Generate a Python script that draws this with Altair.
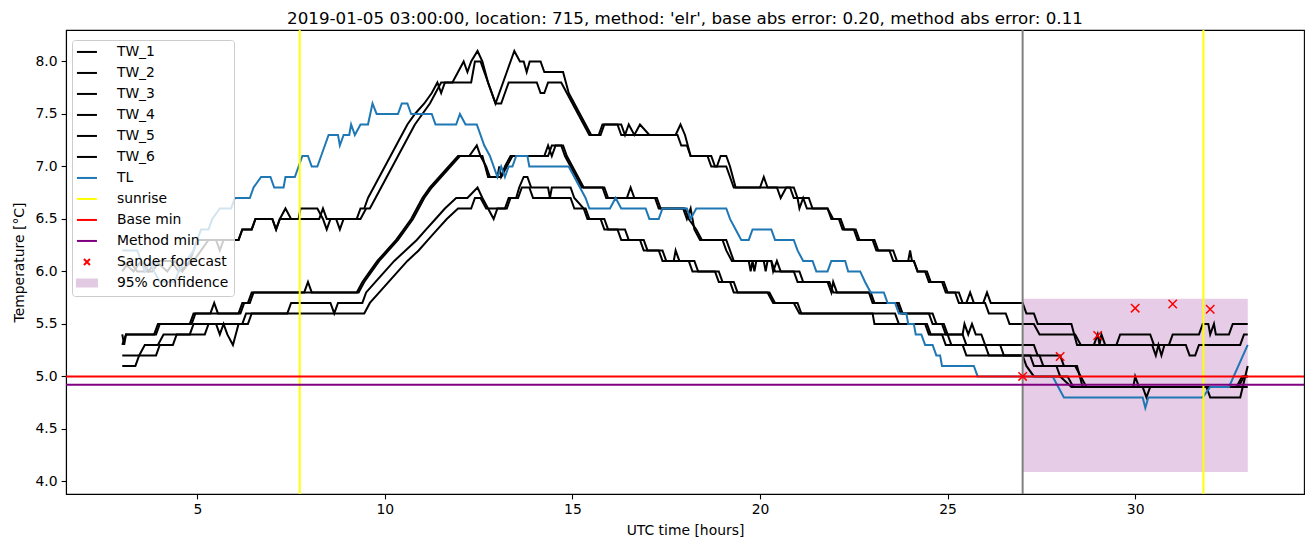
import altair as alt
import pandas as pd

# ---------------- data ----------------
TW_1 = [(3.0, 6.1), (3.3, 6.0), (3.5, 6.1), (3.7, 6.0), (3.9, 6.1), (4.2, 6.0), (4.4, 6.1), (4.6, 6.0), (4.8, 6.1),
        (5.0, 6.3), (5.5, 6.3), (5.6, 6.2), (5.7, 6.3), (6.1, 6.3), (6.2, 6.4), (6.45, 6.4), (6.55, 6.5), (7.0, 6.5),
        (7.1, 6.4), (7.2, 6.5), (7.7, 6.5), (7.75, 6.6), (8.2, 6.6), (8.35, 6.5), (8.45, 6.4), (8.55, 6.5), (9.25, 6.5),
        (9.35, 6.6), (9.45, 6.6), (9.55, 6.7), (9.7, 6.8), (9.85, 6.9), (10.0, 7.0), (10.15, 7.1), (10.3, 7.2),
        (10.45, 7.3), (10.6, 7.4), (10.8, 7.5), (11.05, 7.6), (11.25, 7.7), (11.4, 7.8), (11.5, 7.7), (11.6, 7.8),
        (11.8, 7.8), (11.95, 7.9), (12.1, 8.0), (12.2, 7.9), (12.3, 8.0), (12.47, 8.1), (12.6, 8.0), (12.75, 7.8),
        (12.95, 7.6), (13.05, 7.7), (13.15, 7.8), (13.25, 7.9), (13.45, 8.1), (13.6, 8.0), (13.7, 8.0), (13.78, 7.9),
        (13.86, 8.0), (14.15, 8.0), (14.25, 7.9), (14.75, 7.9), (14.9, 7.7), (15.05, 7.6), (15.2, 7.5), (15.35, 7.4),
        (15.5, 7.3), (15.7, 7.3), (15.8, 7.4), (16.3, 7.4), (16.4, 7.3), (16.5, 7.4), (16.65, 7.3), (16.8, 7.4),
        (17.05, 7.3), (17.75, 7.3), (17.88, 7.4), (18.0, 7.3), (18.15, 7.1), (18.6, 7.1), (18.7, 7.0), (18.85, 7.0),
        (18.95, 7.1), (19.1, 7.1), (19.2, 7.0), (19.35, 6.8), (20.0, 6.8), (20.1, 6.9), (20.2, 6.8), (20.45, 6.8),
        (20.55, 6.7), (20.7, 6.8), (20.9, 6.8), (21.0, 6.7), (21.3, 6.7), (21.4, 6.6), (21.8, 6.6), (21.9, 6.5),
        (22.1, 6.5), (22.2, 6.4), (22.5, 6.4), (22.6, 6.3), (23.0, 6.3), (23.1, 6.2), (23.45, 6.2), (23.55, 6.1),
        (23.95, 6.1), (24.0, 6.2), (24.05, 6.1), (24.1, 6.1), (24.2, 6.0), (24.4, 6.0), (24.5, 5.9), (24.85, 5.9),
        (24.95, 5.8), (25.2, 5.8), (25.3, 5.7), (25.5, 5.7), (25.6, 5.8), (25.7, 5.7), (25.95, 5.7), (26.05, 5.8),
        (26.15, 5.7), (27.0, 5.7), (27.1, 5.6), (27.3, 5.6), (27.4, 5.5), (28.3, 5.5), (28.45, 5.3), (28.9, 5.3),
        (29.0, 5.4), (29.05, 5.3), (29.1, 5.4), (29.2, 5.3), (29.5, 5.3), (29.6, 5.4), (30.4, 5.4), (30.5, 5.3),
        (30.9, 5.3), (31.0, 5.4), (31.7, 5.4), (31.8, 5.5), (31.95, 5.5), (32.0, 5.4), (32.1, 5.5), (32.15, 5.4),
        (32.5, 5.4), (32.6, 5.5), (33.0, 5.5)]

TW_2 = [(3.0, 6.0), (3.2, 6.1), (3.4, 6.0), (3.8, 6.0), (4.0, 6.1), (4.3, 6.1), (4.5, 6.0), (4.9, 6.1), (5.1, 6.2),
        (5.3, 6.3), (6.1, 6.3), (6.2, 6.4), (6.45, 6.4), (6.55, 6.5), (7.0, 6.5), (7.1, 6.4), (7.2, 6.5), (7.35, 6.6),
        (7.5, 6.5), (8.25, 6.5), (8.35, 6.6), (8.45, 6.5), (8.7, 6.5), (8.8, 6.4), (8.9, 6.5), (9.35, 6.5), (9.5, 6.6),
        (9.6, 6.6), (9.75, 6.7), (9.9, 6.8), (10.05, 6.9), (10.2, 7.0), (10.35, 7.1), (10.5, 7.2), (10.65, 7.3),
        (10.8, 7.4), (11.0, 7.5), (11.2, 7.6), (11.35, 7.7), (11.5, 7.8), (12.3, 7.8), (12.4, 8.0), (12.55, 8.0),
        (12.75, 7.8), (12.95, 7.6), (13.1, 7.6), (13.2, 7.7), (13.3, 7.8), (14.05, 7.8), (14.15, 7.7), (14.25, 7.7),
        (14.35, 7.8), (14.7, 7.8), (14.85, 7.7), (15.0, 7.6), (15.15, 7.5), (15.3, 7.4), (15.45, 7.3), (15.75, 7.3),
        (15.85, 7.4), (16.2, 7.4), (16.3, 7.3), (17.8, 7.3), (17.9, 7.2), (18.05, 7.2), (18.15, 7.1), (18.7, 7.1),
        (18.8, 7.0), (19.1, 7.0), (19.3, 6.8), (20.8, 6.8), (20.9, 6.7), (21.0, 6.7), (21.05, 6.6), (21.15, 6.7),
        (21.25, 6.6), (21.8, 6.6), (21.95, 6.5), (22.15, 6.5), (22.25, 6.4), (22.55, 6.4), (22.65, 6.3), (23.05, 6.3),
        (23.15, 6.2), (23.55, 6.2), (23.65, 6.1), (24.1, 6.1), (24.2, 6.0), (24.45, 6.0), (24.55, 5.9), (24.9, 5.9),
        (25.0, 5.8), (25.3, 5.8), (25.4, 5.7), (26.0, 5.7), (26.1, 5.6), (26.55, 5.6), (26.65, 5.5), (27.3, 5.5),
        (27.45, 5.4), (28.4, 5.4), (28.55, 5.3), (30.45, 5.3), (30.55, 5.2), (30.62, 5.3), (30.7, 5.2), (30.78, 5.3),
        (31.35, 5.3), (31.45, 5.2), (31.6, 5.2), (31.7, 5.3), (32.8, 5.3), (32.9, 5.4), (33.0, 5.4)]

TW_3 = [(3.0, 5.3), (3.1, 5.4), (3.85, 5.4), (3.95, 5.5), (4.8, 5.5), (4.9, 5.6), (5.35, 5.6), (5.45, 5.7),
        (5.55, 5.6), (6.1, 5.6), (6.2, 5.7), (6.35, 5.7), (6.45, 5.8), (7.85, 5.8), (7.95, 5.9), (8.05, 5.8),
        (9.25, 5.8), (9.4, 5.9), (9.6, 6.0), (9.8, 6.1), (10.05, 6.2), (10.3, 6.3), (10.5, 6.4), (10.7, 6.5),
        (10.85, 6.6), (11.0, 6.7), (11.2, 6.8), (11.45, 6.9), (11.7, 7.0), (11.95, 7.1), (12.25, 7.1), (12.45, 7.2),
        (12.55, 7.1), (12.7, 7.0), (12.8, 6.9), (13.1, 6.9), (13.2, 7.0), (13.35, 7.1), (14.35, 7.1), (14.45, 7.2),
        (14.75, 7.2), (14.85, 7.1), (15.0, 7.0), (15.15, 6.9), (15.3, 6.8), (15.85, 6.8), (15.95, 6.7), (16.45, 6.7),
        (16.55, 6.8), (16.65, 6.7), (17.2, 6.7), (17.3, 6.6), (17.95, 6.6), (18.05, 6.5), (18.15, 6.6), (18.25, 6.4),
        (18.4, 6.3), (19.1, 6.3), (19.2, 6.2), (19.3, 6.1), (19.7, 6.1), (19.75, 6.0), (19.8, 6.1), (19.85, 6.0),
        (19.9, 6.1), (20.3, 6.1), (20.35, 6.0), (20.45, 6.1), (20.55, 6.0), (21.05, 6.0), (21.15, 5.9), (21.8, 5.9),
        (21.9, 5.8), (21.95, 5.9), (22.05, 5.8), (22.95, 5.8), (23.05, 5.7), (23.7, 5.7), (23.8, 5.6), (24.6, 5.6),
        (24.7, 5.5), (24.9, 5.5), (25.0, 5.4), (25.4, 5.4), (25.45, 5.5), (25.55, 5.4), (25.65, 5.5), (25.75, 5.4),
        (25.9, 5.4), (26.0, 5.3), (27.3, 5.3), (27.4, 5.2), (28.0, 5.2), (28.1, 5.1), (28.45, 5.1), (28.6, 4.9),
        (29.95, 4.9), (30.0, 5.0), (30.1, 4.9), (32.7, 4.9), (32.85, 5.0), (33.0, 5.0)]

TW_4 = [(3.0, 5.4), (3.05, 5.3), (3.1, 5.4), (3.9, 5.4), (4.0, 5.5), (4.85, 5.5), (4.95, 5.6), (6.15, 5.6),
        (6.25, 5.7), (6.4, 5.7), (6.5, 5.8), (9.3, 5.8), (9.45, 5.9), (9.65, 6.0), (9.85, 6.1), (10.1, 6.2),
        (10.35, 6.3), (10.55, 6.4), (10.75, 6.5), (10.9, 6.6), (11.05, 6.7), (11.25, 6.8), (11.5, 6.9), (11.75, 7.0),
        (12.0, 7.1), (12.35, 7.1), (12.6, 7.1), (12.75, 6.9), (13.0, 6.9), (13.05, 7.0), (13.1, 6.9), (13.25, 7.0),
        (13.4, 7.1), (14.25, 7.1), (14.35, 7.2), (14.45, 7.1), (14.55, 7.2), (14.7, 7.2), (14.8, 7.1), (14.95, 7.0),
        (15.1, 6.9), (15.25, 6.8), (15.8, 6.8), (15.9, 6.7), (17.25, 6.7), (17.35, 6.6), (18.0, 6.6), (18.1, 6.5),
        (18.3, 6.4), (18.45, 6.3), (19.0, 6.3), (19.1, 6.2), (19.25, 6.1), (20.1, 6.1), (20.15, 6.0), (20.2, 6.1),
        (20.3, 6.1), (20.4, 6.0), (20.9, 6.0), (21.0, 5.9), (21.85, 5.9), (21.95, 5.8), (22.9, 5.8), (23.0, 5.7),
        (23.65, 5.7), (23.75, 5.6), (24.5, 5.6), (24.6, 5.5), (24.85, 5.5), (24.95, 5.4), (25.4, 5.4), (25.5, 5.3),
        (26.4, 5.3), (26.5, 5.2), (27.2, 5.2), (27.3, 5.1), (28.4, 5.1), (28.55, 5.0), (28.7, 4.9), (30.2, 4.9),
        (30.3, 4.8), (30.4, 4.9), (31.9, 4.9), (32.0, 4.8), (32.8, 4.8), (33.0, 5.1)]

TW_5 = [(3.0, 5.2), (3.45, 5.2), (3.6, 5.3), (3.95, 5.3), (4.1, 5.4), (4.8, 5.4), (4.9, 5.5), (5.5, 5.5),
        (5.6, 5.4), (5.7, 5.5), (5.8, 5.4), (5.95, 5.3), (6.1, 5.5), (6.35, 5.5), (6.45, 5.6), (7.4, 5.6),
        (7.5, 5.7), (8.55, 5.7), (8.65, 5.6), (8.75, 5.7), (9.4, 5.7), (9.5, 5.8), (9.75, 5.9), (10.0, 6.0),
        (10.25, 6.1), (10.55, 6.2), (10.85, 6.3), (11.1, 6.4), (11.35, 6.5), (11.6, 6.6), (11.9, 6.7), (12.2, 6.7),
        (12.47, 6.8), (12.6, 6.7), (12.75, 6.6), (12.9, 6.5), (13.0, 6.6), (13.2, 6.6), (13.3, 6.7), (13.5, 6.7),
        (13.58, 6.8), (13.7, 6.9), (13.8, 6.9), (13.9, 6.8), (14.35, 6.8), (14.4, 6.7), (14.45, 6.8), (14.95, 6.8),
        (15.05, 6.7), (15.3, 6.6), (15.4, 6.5), (15.75, 6.5), (15.85, 6.4), (16.2, 6.4), (16.3, 6.3), (16.8, 6.3),
        (16.9, 6.2), (17.3, 6.2), (17.4, 6.1), (17.7, 6.1), (17.75, 6.2), (17.85, 6.1), (18.1, 6.1), (18.2, 6.0),
        (18.8, 6.0), (18.9, 5.9), (19.2, 5.9), (19.3, 5.8), (20.2, 5.8), (20.35, 5.7), (20.9, 5.7), (21.05, 5.6),
        (23.0, 5.6), (23.05, 5.5), (24.4, 5.5), (24.5, 5.4), (24.85, 5.4), (24.95, 5.3), (25.4, 5.3), (25.5, 5.2),
        (27.45, 5.2), (27.55, 5.1), (27.9, 5.1), (28.0, 5.0), (28.3, 4.9), (33.0, 4.9)]

TW_6 = [(3.0, 5.1), (3.35, 5.1), (3.45, 5.2), (3.9, 5.2), (4.0, 5.3), (4.35, 5.3), (4.45, 5.4), (5.2, 5.4),
        (5.3, 5.5), (6.2, 5.5), (6.3, 5.6), (9.45, 5.6), (9.6, 5.7), (9.85, 5.8), (10.1, 5.9), (10.35, 6.0),
        (10.6, 6.1), (10.9, 6.2), (11.15, 6.3), (11.4, 6.4), (11.65, 6.5), (11.95, 6.6), (12.3, 6.6), (12.4, 6.7),
        (12.55, 6.7), (12.7, 6.6), (13.25, 6.6), (13.35, 6.7), (13.55, 6.7), (13.65, 6.8), (13.85, 6.8), (13.95, 6.7),
        (14.95, 6.7), (15.05, 6.6), (15.35, 6.6), (15.45, 6.5), (15.85, 6.5), (15.95, 6.4), (16.4, 6.4), (16.5, 6.3),
        (16.9, 6.3), (17.0, 6.2), (17.4, 6.2), (17.5, 6.1), (18.25, 6.1), (18.35, 6.0), (18.9, 6.0), (19.0, 5.9),
        (19.3, 5.9), (19.4, 5.8), (20.25, 5.8), (20.4, 5.7), (21.0, 5.7), (21.1, 5.6), (23.6, 5.6), (23.7, 5.5),
        (24.45, 5.5), (24.55, 5.4), (25.0, 5.4), (25.1, 5.3), (26.0, 5.3), (26.1, 5.2), (27.0, 5.2), (27.1, 5.1),
        (27.3, 5.0), (28.2, 5.0), (28.35, 4.9), (32.75, 4.9), (32.9, 5.0), (33.0, 5.0)]

TL = [(3.0, 6.2), (3.4, 6.2), (3.5, 6.1), (3.6, 6.0), (3.75, 6.1), (3.85, 6.0), (4.0, 5.9), (4.4, 5.9),
      (4.5, 6.0), (4.7, 6.1), (4.9, 6.2), (5.0, 6.3), (5.1, 6.4), (5.3, 6.4), (5.4, 6.5), (5.6, 6.6), (5.9, 6.6),
      (6.0, 6.7), (6.4, 6.7), (6.5, 6.8), (6.7, 6.9), (6.95, 6.9), (7.05, 6.8), (7.3, 6.8), (7.35, 6.9),
      (7.6, 6.9), (7.7, 7.0), (7.8, 7.1), (7.95, 7.1), (8.05, 7.0), (8.2, 7.0), (8.3, 7.1), (8.4, 7.2), (8.5, 7.3),
      (8.75, 7.3), (8.8, 7.2), (8.9, 7.3), (9.05, 7.3), (9.1, 7.4), (9.2, 7.3), (9.35, 7.4), (9.55, 7.4),
      (9.67, 7.6), (9.78, 7.5), (10.35, 7.5), (10.45, 7.6), (10.6, 7.6), (10.7, 7.5), (11.25, 7.5), (11.35, 7.4),
      (11.9, 7.4), (12.0, 7.5), (12.15, 7.4), (12.45, 7.4), (12.65, 7.2), (12.8, 7.1), (13.0, 6.9), (13.1, 7.0),
      (13.2, 6.9), (13.3, 7.0), (13.4, 7.0), (13.5, 7.1), (13.8, 7.1), (13.85, 7.0), (14.9, 7.0), (15.05, 6.9),
      (15.2, 6.8), (15.35, 6.7), (15.45, 6.6), (16.0, 6.6), (16.15, 6.7), (16.3, 6.6), (16.95, 6.6), (17.05, 6.5),
      (17.3, 6.5), (17.4, 6.6), (18.05, 6.6), (18.15, 6.5), (18.3, 6.6), (19.1, 6.6), (19.2, 6.5), (19.35, 6.4),
      (19.5, 6.3), (19.7, 6.3), (19.8, 6.4), (20.3, 6.4), (20.4, 6.3), (20.9, 6.3), (21.0, 6.2), (21.15, 6.1),
      (21.4, 6.1), (21.5, 6.0), (21.8, 6.0), (21.9, 6.1), (22.27, 6.1), (22.35, 6.0), (22.67, 6.0), (22.8, 5.9),
      (22.95, 5.8), (23.3, 5.8), (23.4, 5.7), (23.6, 5.7), (23.7, 5.6), (23.9, 5.6), (23.95, 5.5), (24.1, 5.5),
      (24.15, 5.4), (24.3, 5.4), (24.4, 5.3), (24.6, 5.3), (24.7, 5.2), (24.8, 5.2), (24.85, 5.1), (25.7, 5.1),
      (25.8, 5.0), (27.8, 5.0), (28.1, 4.8), (30.2, 4.8), (30.27, 4.7), (30.35, 4.8), (31.8, 4.8), (32.0, 4.9),
      (32.5, 4.9), (33.0, 5.3)]

SUNRISE_X = [7.73, 31.82]
FORECAST_TIME_X = [27.0]
BASE_MIN = 5.0
METHOD_MIN = 4.92
SANDER_X = [27.0, 28.0, 29.0, 30.0, 31.0, 32.0]
SANDER_Y = [5.0, 5.19, 5.39, 5.65, 5.69, 5.64]
CONF_X = [27.0, 33.0]
CONF_Y = [4.09, 5.74]

X_TICKS = [5, 10, 15, 20, 25, 30]
Y_TICKS = [4.0, 4.5, 5.0, 5.5, 6.0, 6.5, 7.0, 7.5, 8.0]
X_DOMAIN = [1.5, 34.5]
Y_DOMAIN = [3.88, 8.30]

TITLE = "2019-01-05 03:00:00, location: 715, method: 'elr', base abs error: 0.20, method abs error: 0.11"

LEGEND_LABELS = ["TW_1", "TW_2", "TW_3", "TW_4", "TW_5", "TW_6", "TL", "sunrise", "Base min",
                 "Method min", "Sander forecast", "95% confidence"]
LEGEND_STROKES = ["black"] * 6 + ["#1f77b4", "#ffff00", "#ff0000", "#800080", "#ff0000", "#e2cbe2"]
LEGEND_FILLS = ["transparent"] * 11 + ["#e2cbe2"]

LINE_PATH = "M-2,0L2,0"
X_PATH = "M-0.6,-0.6L0.6,0.6M-0.6,0.6L0.6,-0.6"
RECT_PATH = "M-2,-0.7L2,-0.7L2,0.7L-2,0.7Z"
LEGEND_SHAPES = [LINE_PATH] * 10 + [X_PATH, RECT_PATH]

# ---------------- build tables ----------------
rows = []
for name, series in [("TW_1", TW_1), ("TW_2", TW_2), ("TW_3", TW_3), ("TW_4", TW_4), ("TW_5", TW_5),
                     ("TW_6", TW_6)]:
    for i, (x, y) in enumerate(series):
        rows.append({"series": name, "x": x, "y": y, "i": i})
tw_df = pd.DataFrame(rows)
tl_df = pd.DataFrame([{"x": x, "y": y, "i": i} for i, (x, y) in enumerate(TL)])
sun_df = pd.DataFrame({"x": SUNRISE_X})
ft_df = pd.DataFrame({"x": FORECAST_TIME_X})
hl_df = pd.DataFrame({"y": [BASE_MIN], "k": ["base"]})
ml_df = pd.DataFrame({"y": [METHOD_MIN], "k": ["method"]})
sander_df = pd.DataFrame({"x": SANDER_X, "y": SANDER_Y})
conf_df = pd.DataFrame({"x": [CONF_X[0]], "x2": [CONF_X[1]], "y": [CONF_Y[0]], "y2": [CONF_Y[1]]})
leg_df = pd.DataFrame({"label": LEGEND_LABELS})

xscale = alt.Scale(domain=X_DOMAIN, nice=False, zero=False)
yscale = alt.Scale(domain=Y_DOMAIN, nice=False, zero=False)
xaxis = alt.Axis(values=X_TICKS, format="d", title="UTC time [hours]")
yaxis = alt.Axis(values=Y_TICKS, format=".1f", title="Temperature [°C]")

X = alt.X("x:Q", scale=xscale, axis=xaxis)
Y = alt.Y("y:Q", scale=yscale, axis=yaxis)

conf = alt.Chart(conf_df).mark_rect(color="#800080", opacity=0.2).encode(
    x=X, x2="x2:Q", y=Y, y2="y2:Q")

tw = alt.Chart(tw_df).mark_line(color="black", strokeWidth=2).encode(
    x=X, y=Y, detail="series:N", order="i:Q")

tl = alt.Chart(tl_df).mark_line(color="#1f77b4", strokeWidth=2).encode(x=X, y=Y, order="i:Q")

sun = alt.Chart(sun_df).mark_rule(color="#ffff00", strokeWidth=2).encode(x=X)
ft = alt.Chart(ft_df).mark_rule(color="#808080", strokeWidth=2).encode(x=X)
base = alt.Chart(hl_df).mark_rule(color="#ff0000", strokeWidth=2).encode(y=Y)
meth = alt.Chart(ml_df).mark_rule(color="#800080", strokeWidth=2).encode(y=Y)

sander = alt.Chart(sander_df).mark_point(shape=X_PATH, size=196, color="#ff0000", strokeWidth=1.5,
                                         filled=False, opacity=1).encode(x=X, y=Y)

legend = alt.Legend(title=None, orient="none", legendX=6, legendY=10,
                    fillColor="rgba(255,255,255,0.8)", strokeColor="#cccccc", cornerRadius=3, padding=5,
                    labelFont="DejaVu Sans", labelFontSize=13.9, labelColor="black", labelLimit=400,
                    symbolStrokeWidth=2, symbolOffset=3, labelOffset=23, rowPadding=6.0,
                    labelBaseline="middle", symbolLimit=0)

leg_layer = alt.Chart(leg_df).mark_point(size=196, strokeWidth=2, opacity=1).encode(
    stroke=alt.Stroke("label:N", scale=alt.Scale(domain=LEGEND_LABELS, range=LEGEND_STROKES), legend=legend),
    fill=alt.Fill("label:N", scale=alt.Scale(domain=LEGEND_LABELS, range=LEGEND_FILLS), legend=legend),
    shape=alt.Shape("label:N", scale=alt.Scale(domain=LEGEND_LABELS, range=LEGEND_SHAPES), legend=legend),
).transform_filter("false")

chart = alt.layer(conf, tw, tl, sun, ft, base, meth, sander, leg_layer).properties(
    width=1238, height=464,
    autosize=alt.AutoSizeParams(type="none"),
    padding={"left": 66, "top": 30, "right": 11, "bottom": 53},
    title=alt.TitleParams(text=TITLE, font="DejaVu Sans", fontSize=16.7, fontWeight="normal",
                          anchor="middle", color="black", offset=1),
).configure_view(stroke="black", strokeWidth=1.1).configure_axis(
    grid=False, domainColor="black", domainWidth=1.1, tickColor="black", tickWidth=1.1, tickSize=4.9,
    labelColor="black", labelFont="DejaVu Sans", labelFontSize=13.9, labelPadding=4,
    titleColor="black", titleFont="DejaVu Sans", titleFontSize=13.9, titleFontWeight="normal",
).configure_axisY(titlePadding=9).configure_axisX(titlePadding=7)

chart.save("out.html", embed_options={"renderer": "svg", "actions": False})
